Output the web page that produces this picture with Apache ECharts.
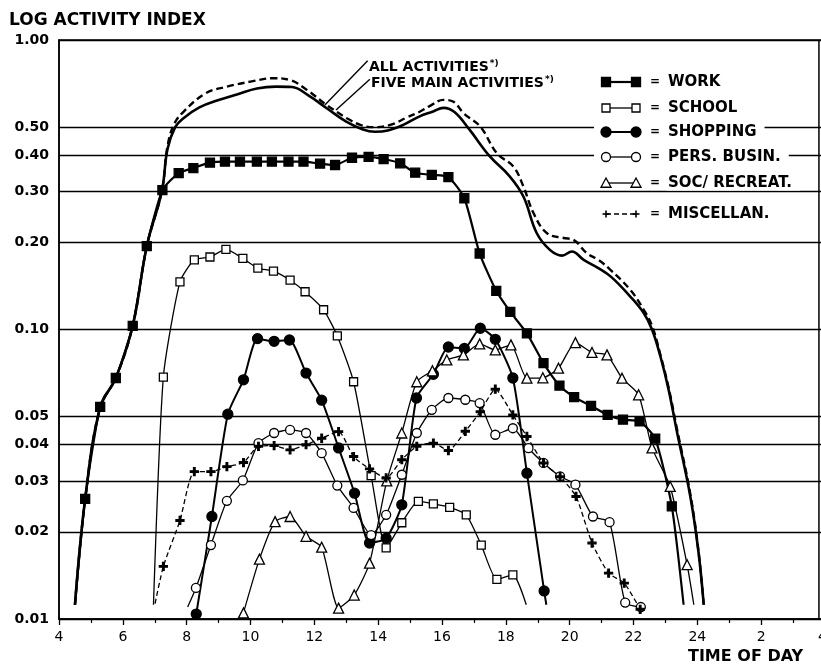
<!DOCTYPE html>
<html><head><meta charset="utf-8">
<script src="https://cdn.jsdelivr.net/npm/echarts@6/dist/echarts.min.js"></script>
<style>html,body{margin:0;padding:0;background:#fff}#c{width:821px;height:665px}</style>
</head><body><div id="c"></div>
<script>
// ---------------- DATA (time of day, activity index) ----------------
const xTickLabels = ['4','6','8','10','12','14','16','18','20','22','24','2','4'];
const yTicks = [0.01,0.02,0.03,0.04,0.05,0.1,0.2,0.3,0.4,0.5,1.0];

const allActivities = [[4.5,0.0112],[4.82,0.026],[5.29,0.054],[5.78,0.068],[6.31,0.103],[6.75,0.194],[7.22,0.30],[7.4,0.43],[7.6,0.51],[7.9,0.565],[8.6,0.655],[9.26,0.69],[10.0,0.718],[10.72,0.738],[11.24,0.727],[11.77,0.672],[12.39,0.596],[13.02,0.537],[13.44,0.509],[13.85,0.50],[14.38,0.509],[14.9,0.54],[15.3,0.565],[15.6,0.59],[16.05,0.621],[16.36,0.612],[16.68,0.558],[17.2,0.502],[17.72,0.406],[18.24,0.365],[18.55,0.312],[18.87,0.252],[19.29,0.215],[19.81,0.207],[20.12,0.204],[20.54,0.1835],[20.9,0.174],[21.27,0.161],[21.9,0.137],[22.32,0.117],[22.58,0.103],[22.84,0.082],[23.1,0.063],[23.35,0.046],[23.78,0.027],[24.04,0.017],[24.2,0.0112]];
const fiveMain = [[4.5,0.0112],[4.82,0.026],[5.29,0.054],[5.78,0.068],[6.31,0.103],[6.75,0.194],[7.22,0.30],[7.4,0.42],[7.64,0.50],[7.9,0.537],[8.4,0.585],[9.0,0.62],[9.6,0.65],[10.2,0.68],[10.8,0.69],[11.3,0.688],[11.8,0.645],[12.4,0.58],[13.0,0.522],[13.5,0.492],[13.9,0.482],[14.3,0.487],[14.8,0.51],[15.3,0.545],[15.7,0.565],[16.05,0.583],[16.4,0.563],[16.85,0.492],[17.5,0.396],[18.1,0.34],[18.55,0.288],[18.97,0.215],[19.39,0.188],[19.76,0.180],[20.07,0.186],[20.44,0.174],[20.9,0.163],[21.3,0.152],[21.9,0.13],[22.32,0.114],[22.58,0.1],[22.84,0.081],[23.1,0.062],[23.35,0.045],[23.78,0.0265],[24.04,0.0169],[24.2,0.0112]];

const work = [[4.5,0.0112],[4.82,0.026],[5.29,0.054],[5.78,0.068],[6.31,0.103],[6.75,0.194],[7.24,0.303],[7.75,0.347],[8.21,0.361],[8.73,0.377],[9.2,0.38],[9.67,0.38],[10.2,0.38],[10.67,0.38],[11.19,0.38],[11.66,0.38],[12.18,0.374],[12.65,0.37],[13.18,0.392],[13.7,0.395],[14.17,0.388],[14.69,0.375],[15.16,0.348],[15.68,0.342],[16.2,0.336],[16.7,0.284],[17.18,0.183],[17.7,0.136],[18.14,0.115],[18.66,0.097],[19.18,0.0765],[19.68,0.064],[20.14,0.0584],[20.67,0.0545],[21.19,0.0507],[21.67,0.0488],[22.19,0.0482],[22.68,0.042],[23.2,0.0245],[23.57,0.0112]];
const school = [[6.96,0.0112],[7.27,0.0685],[7.79,0.146],[8.24,0.174],[8.73,0.178],[9.23,0.189],[9.76,0.176],[10.23,0.163],[10.72,0.159],[11.24,0.148],[11.71,0.135],[12.29,0.117],[12.72,0.095],[13.23,0.066],[13.78,0.0313],[14.25,0.0176],[14.74,0.0215],[15.26,0.0255],[15.73,0.025],[16.24,0.0243],[16.76,0.0229],[17.23,0.018],[17.72,0.0137],[18.22,0.0142],[18.64,0.0112]];
const shopping = [[8.3,0.0104],[8.79,0.0226],[9.29,0.051],[9.78,0.067],[10.22,0.093],[10.74,0.091],[11.22,0.092],[11.74,0.0707],[12.23,0.057],[12.76,0.039],[13.26,0.0272],[13.73,0.0183],[14.25,0.019],[14.74,0.0248],[15.2,0.058],[15.73,0.070],[16.2,0.087],[16.7,0.086],[17.2,0.101],[17.67,0.0925],[18.22,0.068],[18.66,0.0319],[19.2,0.0125],[19.27,0.0112]];
const persBusin = [[8.03,0.011],[8.29,0.0128],[8.76,0.018],[9.26,0.0256],[9.76,0.0301],[10.25,0.0405],[10.74,0.0439],[11.24,0.045],[11.74,0.0439],[12.23,0.0374],[12.72,0.0289],[13.23,0.0242],[13.78,0.0195],[14.25,0.0229],[14.74,0.0315],[15.21,0.0439],[15.68,0.0528],[16.2,0.058],[16.73,0.0572],[17.18,0.0557],[17.67,0.0433],[18.22,0.0456],[18.71,0.0389],[19.18,0.0346],[19.7,0.0311],[20.18,0.0291],[20.73,0.0226],[21.25,0.0216],[21.74,0.0114],[22.23,0.011]];
const socRecreat = [[9.78,0.0105],[10.28,0.0161],[10.77,0.0217],[11.24,0.0226],[11.74,0.0193],[12.23,0.0177],[12.76,0.0109],[13.25,0.0121],[13.73,0.0156],[14.27,0.030],[14.74,0.0439],[15.21,0.066],[15.7,0.072],[16.15,0.0785],[16.67,0.0817],[17.18,0.0892],[17.67,0.085],[18.16,0.0885],[18.66,0.0679],[19.16,0.0681],[19.65,0.0735],[20.18,0.0901],[20.7,0.0833],[21.17,0.0817],[21.64,0.0679],[22.16,0.0595],[22.58,0.039],[23.15,0.0287],[23.68,0.0154],[23.89,0.0112]];
const miscellan = [[7.01,0.0113],[7.27,0.0152],[7.79,0.0219],[8.24,0.0323],[8.76,0.0323],[9.26,0.0336],[9.78,0.0347],[10.25,0.0395],[10.74,0.0397],[11.24,0.0384],[11.74,0.040],[12.23,0.0421],[12.76,0.0444],[13.23,0.0364],[13.73,0.033],[14.25,0.0307],[14.74,0.0355],[15.21,0.0395],[15.73,0.0405],[16.2,0.0382],[16.73,0.0445],[17.2,0.052],[17.67,0.0622],[18.22,0.0507],[18.66,0.0427],[19.18,0.0346],[19.7,0.031],[20.2,0.0265],[20.7,0.0183],[21.22,0.0144],[21.71,0.0133],[22.21,0.0108]];

const legendLabels = ['WORK','SCHOOL','SHOPPING','PERS. BUSIN.','SOC/ RECREAT.','MISCELLAN.'];
// annotation anchors in data space: [text end of leader, point on curve]
const annoAllLeader = [[13.67,0.848],[12.33,0.596]];
const annoFiveLeader = [[13.74,0.732],[12.68,0.573]];
const frameRightT = 27.81;

// ---------------- STYLE ----------------
const FONT = 'DejaVu Sans';
const PLUS = 'path://M3.2,0H4.8V3.2H8V4.8H4.8V8H3.2V4.8H0V3.2H3.2Z';
const styles = {
  work:     {symbol:'rect', size:9, fill:'#000', width:2.2, type:'solid', bare:[0,'last']},
  school:   {symbol:'rect', size:8, fill:'#fff', width:1.3, type:'solid', bare:[0,'last']},
  shopping: {symbol:'circle', size:10, fill:'#000', width:2, type:'solid', bare:['last']},
  pers:     {symbol:'circle', size:9, fill:'#fff', width:1.3, type:'solid', bare:[0]},
  soc:      {symbol:'triangle', size:10, fill:'#fff', width:1.3, type:'solid', bare:['last']},
  misc:     {symbol:PLUS, size:8, fill:'#000', width:1.3, type:[5,3], bare:[0]}
};

function markerSeries(name, pts, st) {
  const bareIdx = st.bare.map(b => b === 'last' ? pts.length - 1 : b);
  return {
    type:'line', name,
    data: pts.map((p,i) => bareIdx.includes(i) ? {value:p, symbol:'none'} : p),
    smooth: 0.2, symbol: st.symbol, symbolSize: st.size, showAllSymbol: true,
    lineStyle:{color:'#000', width: st.width, type: st.type},
    itemStyle:{color: st.fill, borderColor:'#000', borderWidth:1.3},
    emphasis:{disabled:true}, z:4, animation:false, silent:true
  };
}
function totalSeries(name, pts, dashed) {
  return {
    type:'line', name, data: pts, smooth:0.4, symbol:'none',
    lineStyle:{color:'#000', width: dashed ? 2.4 : 2.6, type: dashed ? [7,4] : 'solid'},
    emphasis:{disabled:true}, z:3, animation:false, silent:true
  };
}

const chart = echarts.init(document.getElementById('c'));
const option = {
  backgroundColor:'#fff',
  animation:false,
  grid:{left:59, top:40, width:766, bottom:46, containLabel:false, outerBoundsMode:'none',
        show:true, borderColor:'#000', borderWidth:1.5, backgroundColor:'transparent'},
  xAxis:{
    type:'value', min:4, max:28, interval:2,
    axisLine:{lineStyle:{color:'#000', width:1.5}},
    axisTick:{length:6, lineStyle:{color:'#000', width:1.3}},
    minorTick:{show:true, splitNumber:2, length:4, lineStyle:{color:'#000', width:1.2}},
    splitLine:{show:false},
    axisLabel:{color:'#000', fontFamily:FONT, fontSize:14, margin:11, showMaxLabel:true,
      formatter: v => xTickLabels[Math.round((v-4)/2)]}
  },
  yAxis:{
    type:'log', logBase:10, min:0.01, max:1,
    axisLine:{show:true, lineStyle:{color:'#000', width:1.5}},
    axisTick:{show:false}, axisLabel:{show:false}, splitLine:{show:false}, minorTick:{show:false}
  },
  series:[
    {type:'line', name:'grid', data:[], z:1, silent:true, animation:false,
     markLine:{silent:true, symbol:['none','none'], z:1, animation:false,
       lineStyle:{color:'#000', width:1.3, type:'solid'},
       label:{position:'start', distance:10, color:'#000', fontFamily:FONT, fontSize:14, fontWeight:'bold',
              formatter: p => Number(p.value).toFixed(2)},
       emphasis:{disabled:true},
       data: yTicks.map(v => ({yAxis:v}))
     }},
    totalSeries('ALL ACTIVITIES', allActivities, true),
    totalSeries('FIVE MAIN ACTIVITIES', fiveMain, false),
    markerSeries('WORK', work, styles.work),
    markerSeries('SCHOOL', school, styles.school),
    markerSeries('SHOPPING', shopping, styles.shopping),
    markerSeries('PERS. BUSIN.', persBusin, styles.pers),
    markerSeries('SOC/ RECREAT.', socRecreat, styles.soc),
    markerSeries('MISCELLAN.', miscellan, styles.misc)
  ]
};
chart.setOption(option);

// ---------------- annotations, frame & legend (graphic) ----------------
const px = pt => chart.convertToPixel({xAxisIndex:0, yAxisIndex:0}, pt);
const G = [];
const Z = 50;
function txt(x, y, text, font, extra) {
  G.push(Object.assign({type:'text', x, y, z:Z, silent:true,
    style:Object.assign({text, font, fill:'#000', verticalAlign:'middle', align:'left'}, extra||{})}));
}
// right frame of the plot
{
  const a = px([frameRightT, 1]), b = px([frameRightT, 0.01]);
  G.push({type:'line', z:Z, silent:true, shape:{x1:a[0], y1:a[1], x2:b[0], y2:b[1]}, style:{stroke:'#000', lineWidth:1.5}});
}
// titles
txt(9, 21, 'LOG ACTIVITY INDEX', 'bold 17px ' + FONT);
txt(688, 657, 'TIME OF DAY', 'bold 16px ' + FONT);
txt(818, 637, xTickLabels[xTickLabels.length-1], '14px ' + FONT);

// leader lines + labels
[annoAllLeader, annoFiveLeader].forEach(l => {
  const a = px(l[0]), b = px(l[1]);
  G.push({type:'line', z:Z, silent:true, shape:{x1:a[0], y1:a[1], x2:b[0], y2:b[1]}, style:{stroke:'#000', lineWidth:1.4}});
});
const rich = {a:{font:'bold 14px ' + FONT, fill:'#000'}, s:{font:'bold 9px ' + FONT, fill:'#000', verticalAlign:'top', padding:[0,0,6,1]}};
txt(369, 67, '{a|ALL ACTIVITIES}{s|*)}', 'bold 14px ' + FONT, {rich});
txt(371, 83, '{a|FIVE MAIN ACTIVITIES}{s|*)}', 'bold 14px ' + FONT, {rich});

// legend
const legendY = [82,108,132,157,183,214];
const legendKinds = [styles.work, styles.school, styles.shopping, styles.pers, styles.soc, styles.misc];
const X1 = 606, X2 = 636;
function symbolEl(st, cx, cy) {
  const s = {fill: st.fill, stroke:'#000', lineWidth:1.3};
  if (st.symbol === 'rect') { const h = st.size/2; return {type:'rect', shape:{x:cx-h, y:cy-h, width:st.size, height:st.size}, style:s, z:Z+2}; }
  if (st.symbol === 'circle') return {type:'circle', shape:{cx, cy, r:st.size/2}, style:s, z:Z+2};
  if (st.symbol === 'triangle') { const h = st.size/2; return {type:'polygon', shape:{points:[[cx,cy-h],[cx+h,cy+h*0.85],[cx-h,cy+h*0.85]]}, style:s, z:Z+2}; }
  return {type:'group', z:Z+2, children:[
    {type:'line', shape:{x1:cx-3.5, y1:cy, x2:cx+3.5, y2:cy}, style:{stroke:'#000', lineWidth:1.6}, z:Z+2},
    {type:'line', shape:{x1:cx, y1:cy-3.5, x2:cx, y2:cy+3.5}, style:{stroke:'#000', lineWidth:1.6}, z:Z+2}]};
}
legendLabels.forEach((lab, i) => {
  const y = legendY[i], st = legendKinds[i];
  G.push({type:'rect', z:Z, silent:true, shape:{x:594, y:y-7, width:76, height:14}, style:{fill:'#fff'}});
  G.push({type:'line', z:Z+1, silent:true, shape:{x1:X1, y1:y, x2:X2, y2:y},
          style:{stroke:'#000', lineWidth: st.width, lineDash: Array.isArray(st.type) ? st.type : null}});
  G.push(symbolEl(st, X1, y));
  G.push(symbolEl(st, X2, y));
  txt(650, y, '=', 'bold 12px ' + FONT);
  txt(666, y, lab, 'bold 15px ' + FONT, {backgroundColor:'#fff', padding:[0,8,0,2]});
});
chart.setOption({graphic: G});
</script>
</body></html>
